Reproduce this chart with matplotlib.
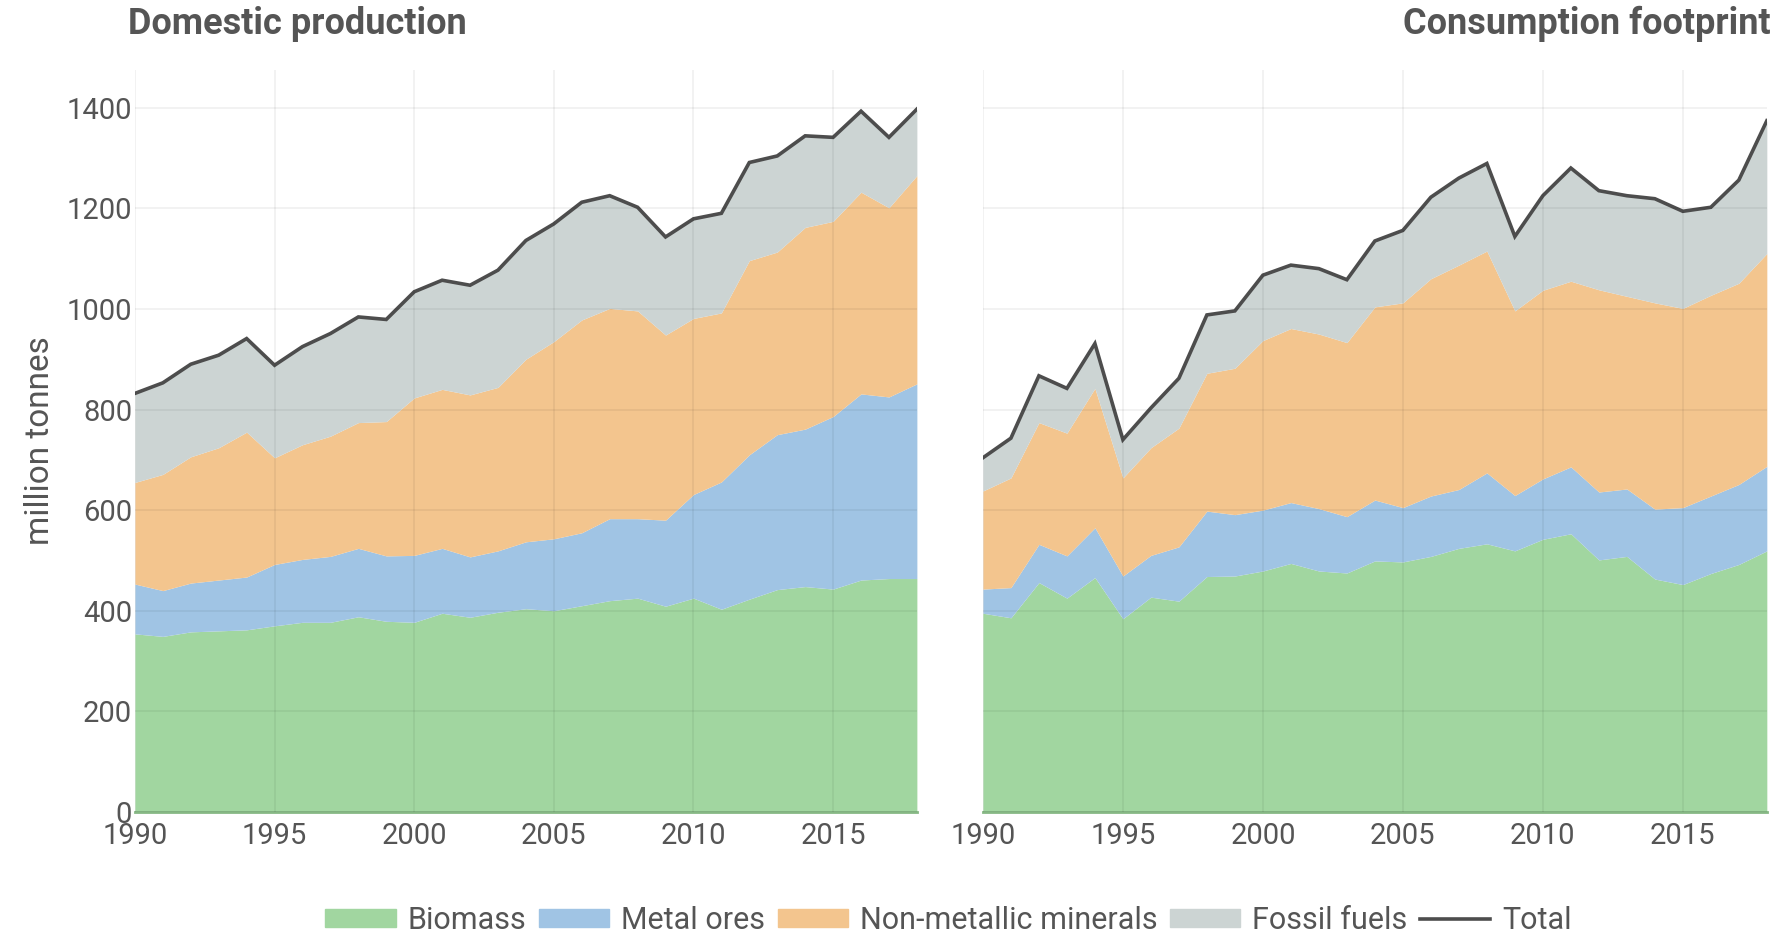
import matplotlib.pyplot as plt
from matplotlib.lines import Line2D
from matplotlib.patches import Patch

years = list(range(1990, 2019))

# Domestic production, cumulative tops (million tonnes)
dom_biomass = [354, 349, 358, 360, 362, 370, 377, 377, 388, 379, 377, 395, 387, 397, 404,
               400, 410, 420, 425, 409, 425, 403, 423, 442, 448, 443, 461, 464, 464]
dom_metal_top = [453, 440, 455, 461, 467, 492, 502, 508, 524, 509, 510, 524, 507, 519, 537,
                 543, 555, 583, 583, 580, 631, 656, 710, 750, 761, 786, 831, 825, 851]
dom_minerals_top = [655, 671, 706, 724, 755, 704, 730, 747, 774, 776, 823, 840, 829, 844, 900,
                    935, 978, 1001, 996, 948, 981, 992, 1096, 1113, 1162, 1174, 1232, 1201, 1265]
dom_total = [832, 853, 890, 908, 941, 888, 925, 951, 984, 979, 1034, 1057, 1047, 1077, 1136,
             1169, 1212, 1225, 1202, 1143, 1179, 1190, 1291, 1304, 1344, 1341, 1393, 1341, 1397]

# Consumption footprint, cumulative tops
con_biomass = [395, 386, 456, 425, 466, 384, 427, 419, 468, 469, 479, 494, 479, 475, 499,
               497, 508, 524, 533, 519, 542, 553, 501, 508, 463, 452, 474, 492, 519]
con_metal_top = [443, 446, 532, 509, 565, 469, 510, 527, 598, 591, 600, 615, 603, 587, 620,
                 605, 628, 641, 674, 629, 662, 686, 636, 642, 602, 605, 628, 651, 687]
con_minerals_top = [638, 664, 774, 753, 842, 664, 724, 763, 872, 882, 937, 961, 950, 933, 1004,
                    1012, 1060, 1087, 1115, 996, 1037, 1055, 1038, 1025, 1012, 1001, 1027, 1051, 1110]
con_total = [704, 743, 867, 842, 931, 740, 803, 862, 988, 996, 1067, 1087, 1080, 1058, 1135,
             1156, 1222, 1260, 1289, 1144, 1225, 1280, 1235, 1225, 1219, 1194, 1202, 1256, 1374]

labels = ['Biomass', 'Metal ores', 'Non-metallic minerals', 'Fossil fuels', 'Total']
colors = ['#a1d6a0', '#a0c4e4', '#f3c58e', '#ccd4d3', '#4d4d4d']
titles = ['Domestic production', 'Consumption footprint']

plt.rcParams['font.family'] = ['Roboto', 'DejaVu Sans']
text_col = '#555555'

fig = plt.figure(figsize=(17.8, 9.35), dpi=100)
ax1 = fig.add_axes([0.0758, 0.1316, 0.4393, 0.7936])
ax2 = fig.add_axes([0.5522, 0.1316, 0.4404, 0.7936])

panels = [
    (ax1, dom_biomass, dom_metal_top, dom_minerals_top, dom_total),
    (ax2, con_biomass, con_metal_top, con_minerals_top, con_total),
]

for ax, bio, met, mins, tot in panels:
    ax.fill_between(years, 0, bio, color=colors[0], lw=0)
    ax.fill_between(years, bio, met, color=colors[1], lw=0)
    ax.fill_between(years, met, mins, color=colors[2], lw=0)
    ax.fill_between(years, mins, tot, color=colors[3], lw=0)
    ax.plot(years, tot, color=colors[4], lw=2.6, solid_joinstyle='miter')

    ax.set_xlim(1990, 2018)
    ax.set_ylim(0, 1475)
    ax.set_xticks([1990, 1995, 2000, 2005, 2010, 2015])
    ax.set_yticks([0, 200, 400, 600, 800, 1000, 1200, 1400])
    ax.set_axisbelow(False)
    ax.grid(True, color='black', alpha=0.06, lw=1.2)
    for s in ['top', 'right', 'left']:
        ax.spines[s].set_visible(False)
    ax.spines['bottom'].set_color('#86b884')
    ax.spines['bottom'].set_linewidth(2)
    ax.tick_params(length=0, labelsize=21, labelcolor=text_col)
    ax.tick_params(axis='x', pad=7)
    ax.tick_params(axis='y', pad=2)

ax2.tick_params(labelleft=False)
ax1.set_ylabel('million tonnes', fontsize=24, color=text_col, labelpad=8)

fig.text(0.072, 0.974, titles[0], fontsize=26, fontweight='bold', color=text_col,
         ha='left', va='center')
fig.text(0.995, 0.974, titles[1], fontsize=26, fontweight='bold', color=text_col,
         ha='right', va='center')

handles = [Patch(color=c) for c in colors[:4]] + [Line2D([], [], color=colors[4], lw=2.6)]
fig.legend(handles, labels, loc='center', bbox_to_anchor=(0.533, 0.016), ncol=5,
           frameon=False, fontsize=22, labelcolor=text_col, handlelength=2.3,
           handleheight=0.55, handletextpad=0.4, columnspacing=0.4, borderaxespad=0)

fig.savefig('out.png', dpi=100)
